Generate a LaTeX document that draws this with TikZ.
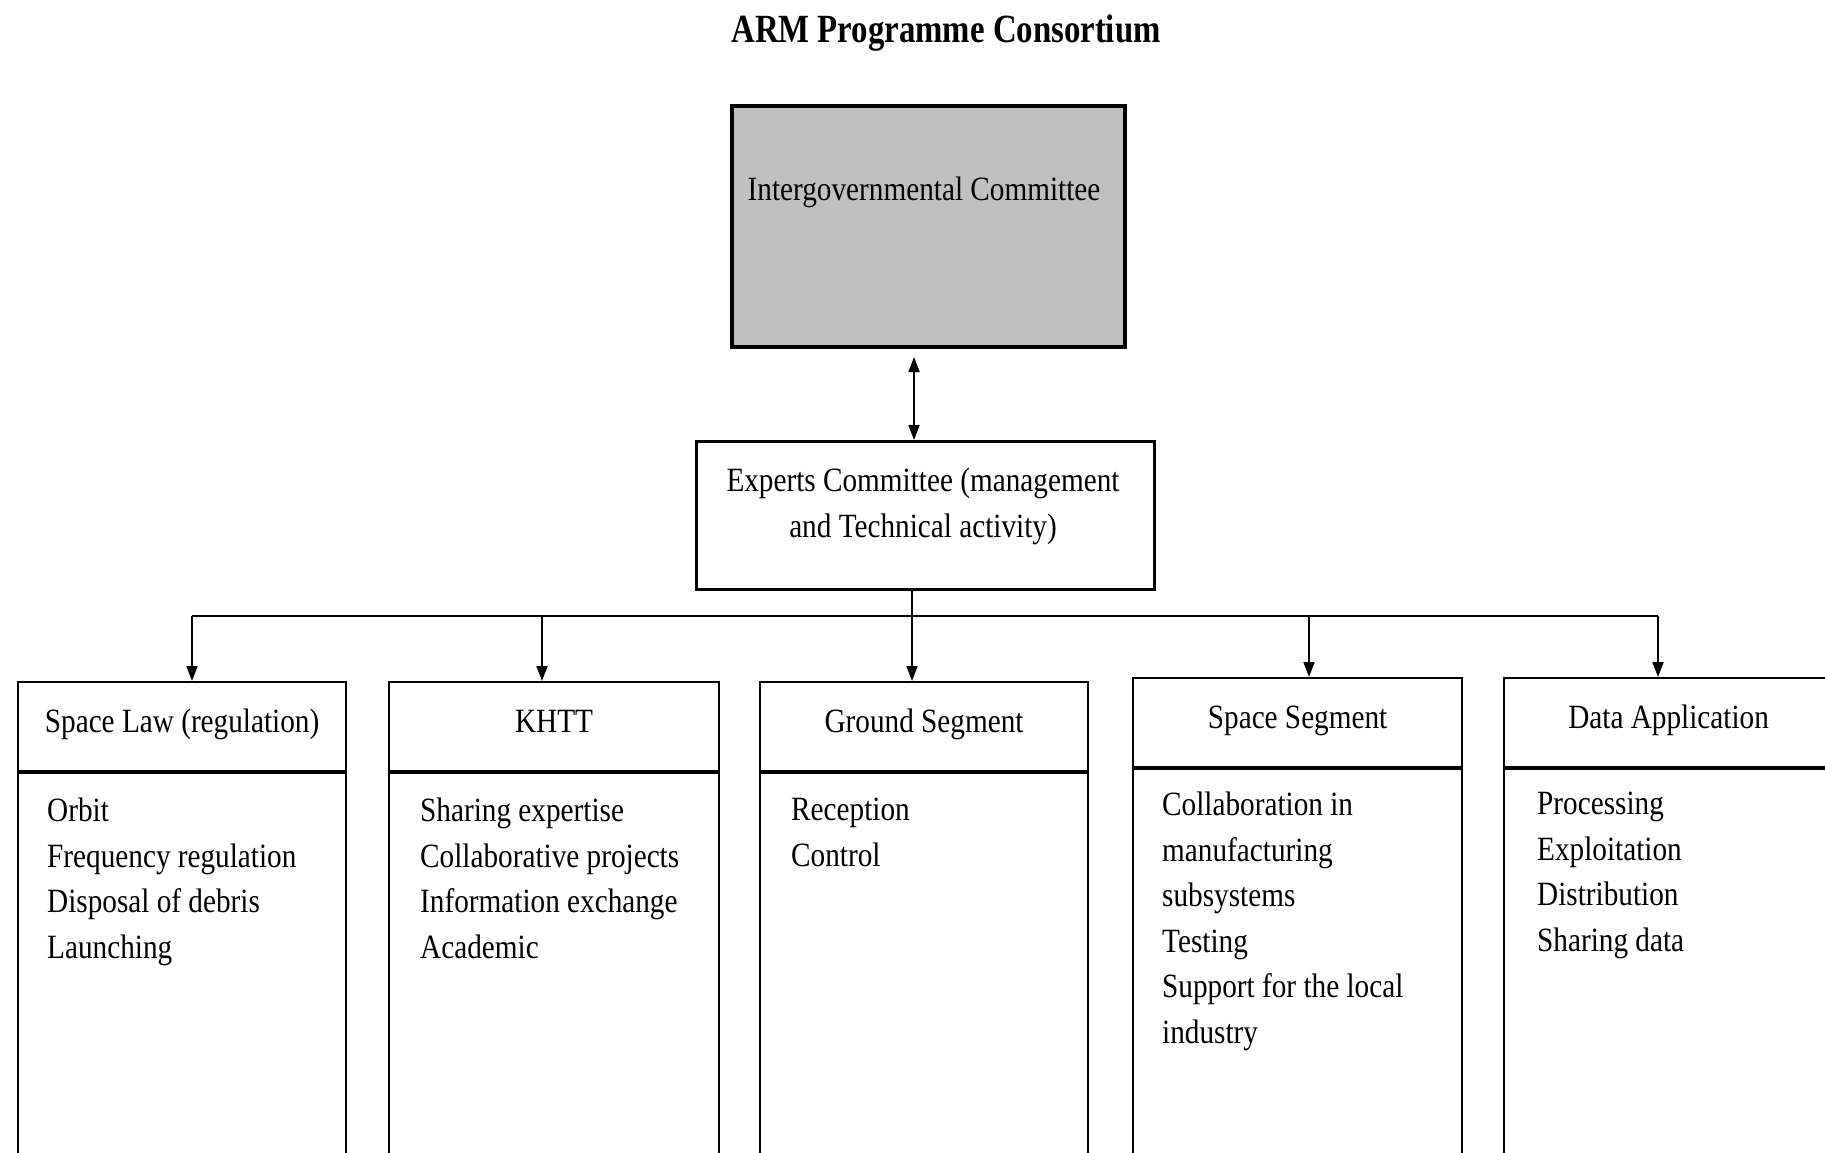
\documentclass[tikz,border=0pt]{standalone}
\usepackage{fontspec}
\setmainfont{Liberation Serif}
\newfontfamily\bodyfont[FakeStretch=0.86]{Liberation Serif}
\newfontfamily\headfont[FakeStretch=0.82]{Liberation Serif}
\usetikzlibrary{arrows.meta}
\definecolor{boxgray}{RGB}{192,192,192}
\begin{document}
\begin{tikzpicture}[x=1pt,y={(0pt,-1pt)},
  txt/.style={inner sep=0pt, font={\bodyfont\fontsize{34}{45.5}\selectfont}},
  hdrbox/.style={draw, line width=2.2pt, inner sep=0pt, minimum height=89pt, anchor=north west,
     text height=20pt, text depth=9pt, font={\bodyfont\fontsize{34}{45.5}\selectfont}},
  bodybox/.style={draw, line width=2.2pt, minimum height=520pt, anchor=north west},
  items/.style={txt, align=left, anchor=north west},
  conn/.style={line width=1.8pt},
  arr/.style={line width=1.8pt, -{Triangle[length=15pt,width=11pt]}},
  darr/.style={line width=1.8pt, {Triangle[length=15pt,width=11pt]}-{Triangle[length=15pt,width=11pt]}}]
\useasboundingbox (0,0) rectangle (1825,1153);
\clip (0,0) rectangle (1825,1153);
\fill[white] (0,0) rectangle (1825,1153);

% title
\node[anchor=base, inner sep=0pt, font={\headfont\bfseries\fontsize{40}{48}\selectfont}] (title) at (946,43) {ARM Programme Consortium};

% intergovernmental committee
\node[draw, fill=boxgray, line width=4pt, minimum width=393pt, minimum height=241pt, anchor=north west, inner sep=0pt] (ig) at (730,104) {};
\node[txt, anchor=base] (igt) at (924,200) {Intergovernmental Committee};

% experts committee
\node[draw, line width=3pt, minimum width=458pt, minimum height=148pt, anchor=north west, inner sep=0pt] (exp) at (695,440) {};
\node[txt, align=center, anchor=north] (expt) at (923,468) {Experts Committee (management\\and Technical activity)};

% double arrow
\coordinate (ax) at (914,0);
\draw[darr, shorten <=8pt] (ig.south -| ax) -- (exp.north -| ax);

% lower boxes
\node[hdrbox, minimum width=328pt] (law) at (17,681) {Space Law (regulation)};
\node[bodybox, minimum width=328pt] (lawb) at (law.south west) {};
\node[hdrbox, minimum width=330pt] (khtt) at (388,681) {KHTT};
\node[bodybox, minimum width=330pt] (khttb) at (khtt.south west) {};
\node[hdrbox, minimum width=328pt] (gs) at (759,681) {Ground Segment};
\node[bodybox, minimum width=328pt] (gsb) at (gs.south west) {};
\node[hdrbox, minimum width=329pt] (ss) at (1132,677) {Space Segment};
\node[bodybox, minimum width=329pt] (ssb) at (ss.south west) {};
\node[hdrbox, minimum width=329pt] (da) at (1503,677) {Data Application};
\node[bodybox, minimum width=329pt] (dab) at (da.south west) {};

% items
\node[items] (lawi) at (47,798) {Orbit\\Frequency regulation\\Disposal of debris\\Launching};
\node[items] (khtti) at (420,798) {Sharing expertise\\Collaborative projects\\Information exchange\\Academic};
\node[items] (gsi) at (791,798) {Reception\\Control};
\node[items] (ssi) at (1162,792) {Collaboration in\\manufacturing\\subsystems\\Testing\\Support for the local\\industry};
\node[items] (dai) at (1537,792) {Processing\\Exploitation\\Distribution\\Sharing data};

% bus
\coordinate (b1) at (192,616);
\coordinate (b2) at (542,616);
\coordinate (b3) at (912,616);
\coordinate (b4) at (1309,616);
\coordinate (b5) at (1658,616);
\draw[conn] (b1) -- (b5);
\draw[arr] (exp.south -| b3) -- (gs.north -| b3);
\draw[arr] (b1) -- (law.north -| b1);
\draw[arr] (b2) -- (khtt.north -| b2);
\draw[arr] (b4) -- (ss.north -| b4);
\draw[arr] (b5) -- (da.north -| b5);
\end{tikzpicture}
\end{document}
